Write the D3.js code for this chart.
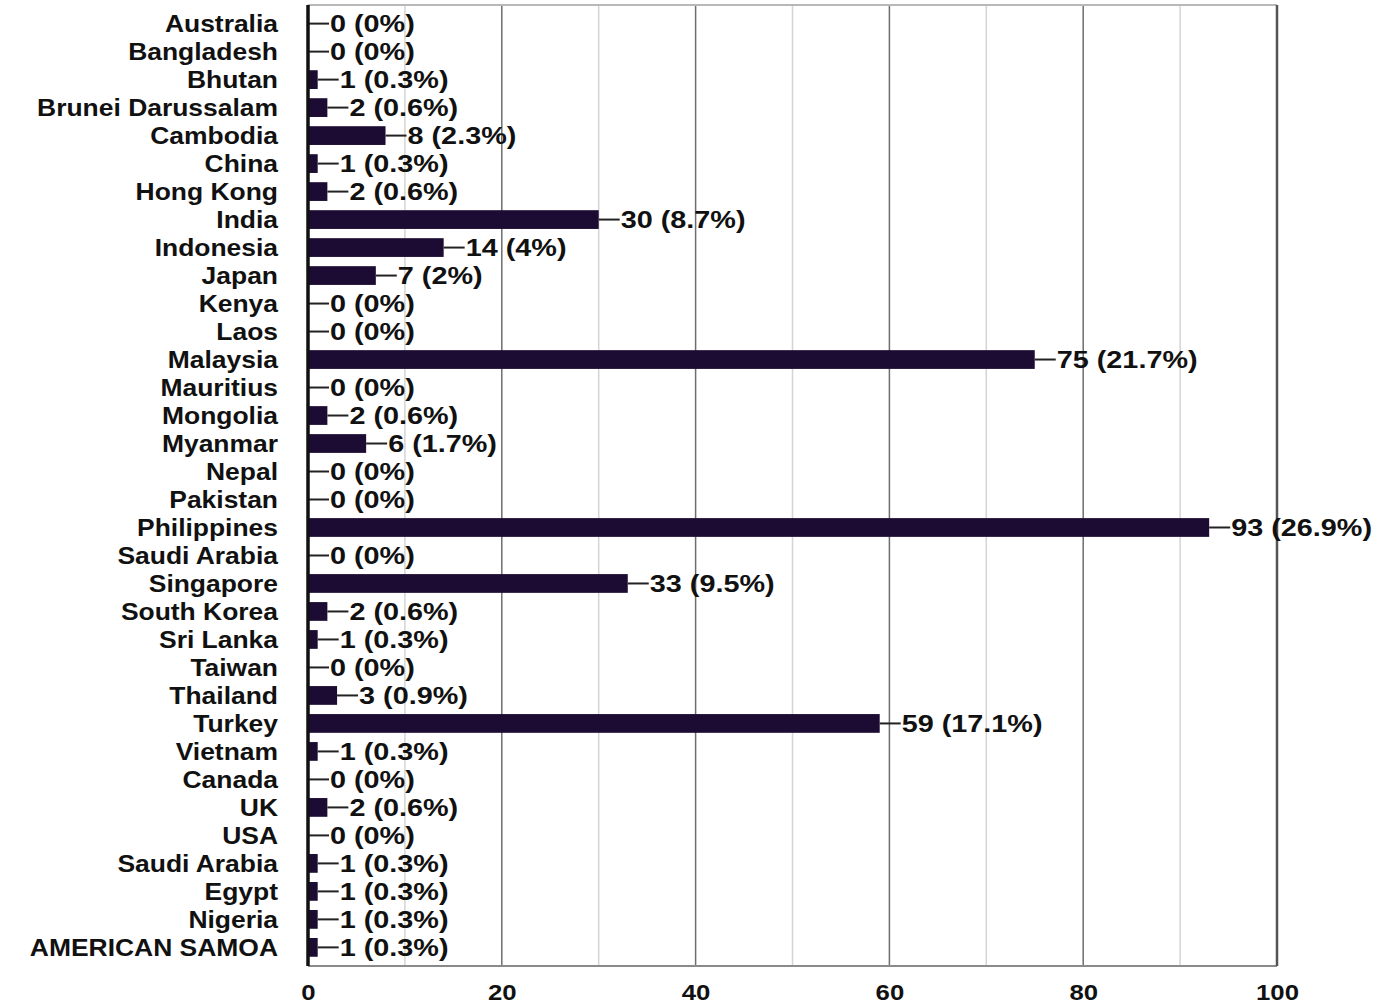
<!DOCTYPE html>
<html>
<head>
<meta charset="utf-8">
<script src="https://cdn.jsdelivr.net/npm/d3@7"></script>
<style>
  body { margin: 0; background: #fff; }
  text { font-family: "Liberation Sans", Arial, sans-serif; }
</style>
</head>
<body>
<div id="chart"></div>
<script>
// data
const countries = ["Australia", "Bangladesh", "Bhutan", "Brunei Darussalam", "Cambodia", "China",
  "Hong Kong", "India", "Indonesia", "Japan", "Kenya", "Laos", "Malaysia", "Mauritius", "Mongolia",
  "Myanmar", "Nepal", "Pakistan", "Philippines", "Saudi Arabia", "Singapore", "South Korea",
  "Sri Lanka", "Taiwan", "Thailand", "Turkey", "Vietnam", "Canada", "UK", "USA", "Saudi Arabia",
  "Egypt", "Nigeria", "AMERICAN SAMOA"];
const counts = [0, 0, 1, 2, 8, 1, 2, 30, 14, 7, 0, 0, 75, 0, 2, 6, 0, 0, 93, 0, 33, 2, 1, 0, 3, 59,
  1, 0, 2, 0, 1, 1, 1, 1];
const percents = ["0%", "0%", "0.3%", "0.6%", "2.3%", "0.3%", "0.6%", "8.7%", "4%", "2%", "0%", "0%",
  "21.7%", "0%", "0.6%", "1.7%", "0%", "0%", "26.9%", "0%", "9.5%", "0.6%", "0.3%", "0%", "0.9%",
  "17.1%", "0.3%", "0%", "0.6%", "0%", "0.3%", "0.3%", "0.3%", "0.3%"];
const xTicks = [0, 20, 40, 60, 80, 100];
const xMinor = [10, 30, 50, 70, 90];

const data = countries.map((c, i) => ({ i: i, name: c, value: counts[i], pct: percents[i] }));

// the original text is a bit wide, so stretch it horizontally
const catStretch = 1.15;
const valStretch = 1.2;
const tickStretch = 1.17;

// set the dimensions and margins of the graph
const margin = { top: 5, right: 100, bottom: 38, left: 308 };
const width = 1377 - margin.left - margin.right;
const height = 1004 - margin.top - margin.bottom;

const svg = d3.select("#chart")
  .append("svg")
  .attr("width", 1377)
  .attr("height", 1004)
  .append("g")
  .attr("transform", `translate(${margin.left},${margin.top})`);

const x = d3.scaleLinear().domain([0, 100]).range([0, width]);
const y = d3.scaleBand()
  .domain(data.map((d) => d.i))
  .range([0, height])
  .padding(0.33);

// minor grid
svg.selectAll(".minor")
  .data(xMinor)
  .enter()
  .append("line")
  .attr("x1", (d) => x(d))
  .attr("x2", (d) => x(d))
  .attr("y1", 0)
  .attr("y2", height)
  .attr("stroke", "#d4d4d4")
  .attr("stroke-width", 1.5);

// major grid
svg.selectAll(".major")
  .data(xTicks.slice(1, -1))
  .enter()
  .append("line")
  .attr("x1", (d) => x(d))
  .attr("x2", (d) => x(d))
  .attr("y1", 0)
  .attr("y2", height)
  .attr("stroke", "#6e6e6e")
  .attr("stroke-width", 1.5);

// top and bottom border
svg.append("line")
  .attr("x1", 0).attr("x2", width)
  .attr("y1", 0).attr("y2", 0)
  .attr("stroke", "#b8b8b8").attr("stroke-width", 2);
svg.append("line")
  .attr("x1", 0).attr("x2", width)
  .attr("y1", height).attr("y2", height)
  .attr("stroke", "#8a8a8a").attr("stroke-width", 2);
// right border
svg.append("line")
  .attr("x1", width).attr("x2", width)
  .attr("y1", 0).attr("y2", height)
  .attr("stroke", "#555").attr("stroke-width", 2.5);

// X axis
const xAxis = svg.append("g")
  .attr("transform", `translate(0,${height})`)
  .call(d3.axisBottom(x).tickValues(xTicks).tickSize(0).tickPadding(18));
xAxis.select(".domain").remove();
xAxis.selectAll("text")
  .attr("transform", `scale(${tickStretch},1)`)
  .style("font-size", "22px")
  .style("font-weight", "bold")
  .attr("fill", "#111");

// category labels
svg.selectAll(".cat")
  .data(data)
  .enter()
  .append("text")
  .attr("class", "cat")
  .attr("transform", (d) => `translate(-30,${y(d.i) + y.bandwidth() / 2}) scale(${catStretch},1)`)
  .attr("dy", "0.36em")
  .attr("text-anchor", "end")
  .style("font-size", "23px")
  .style("font-weight", "bold")
  .attr("fill", "#111")
  .text((d) => d.name);

// Bars
svg.selectAll(".bar")
  .data(data)
  .enter()
  .append("rect")
  .attr("class", "bar")
  .attr("x", 0)
  .attr("y", (d) => y(d.i))
  .attr("width", (d) => x(d.value))
  .attr("height", y.bandwidth())
  .attr("fill", "#1c0c33");

// leader lines
svg.selectAll(".leader")
  .data(data)
  .enter()
  .append("line")
  .attr("x1", (d) => x(d.value))
  .attr("x2", (d) => x(d.value) + 21)
  .attr("y1", (d) => y(d.i) + y.bandwidth() / 2)
  .attr("y2", (d) => y(d.i) + y.bandwidth() / 2)
  .attr("stroke", "#222")
  .attr("stroke-width", 2);

// value labels
svg.selectAll(".val")
  .data(data)
  .enter()
  .append("text")
  .attr("class", "val")
  .attr("transform", (d) => `translate(${x(d.value) + 22},${y(d.i) + y.bandwidth() / 2}) scale(${valStretch},1)`)
  .attr("dy", "0.36em")
  .style("font-size", "24px")
  .style("font-weight", "bold")
  .attr("fill", "#111")
  .text((d) => `${d.value} (${d.pct})`);

// left axis line
svg.append("line")
  .attr("x1", 0).attr("x2", 0)
  .attr("y1", 0).attr("y2", height)
  .attr("stroke", "#111").attr("stroke-width", 3.5);
</script>
</body>
</html>
